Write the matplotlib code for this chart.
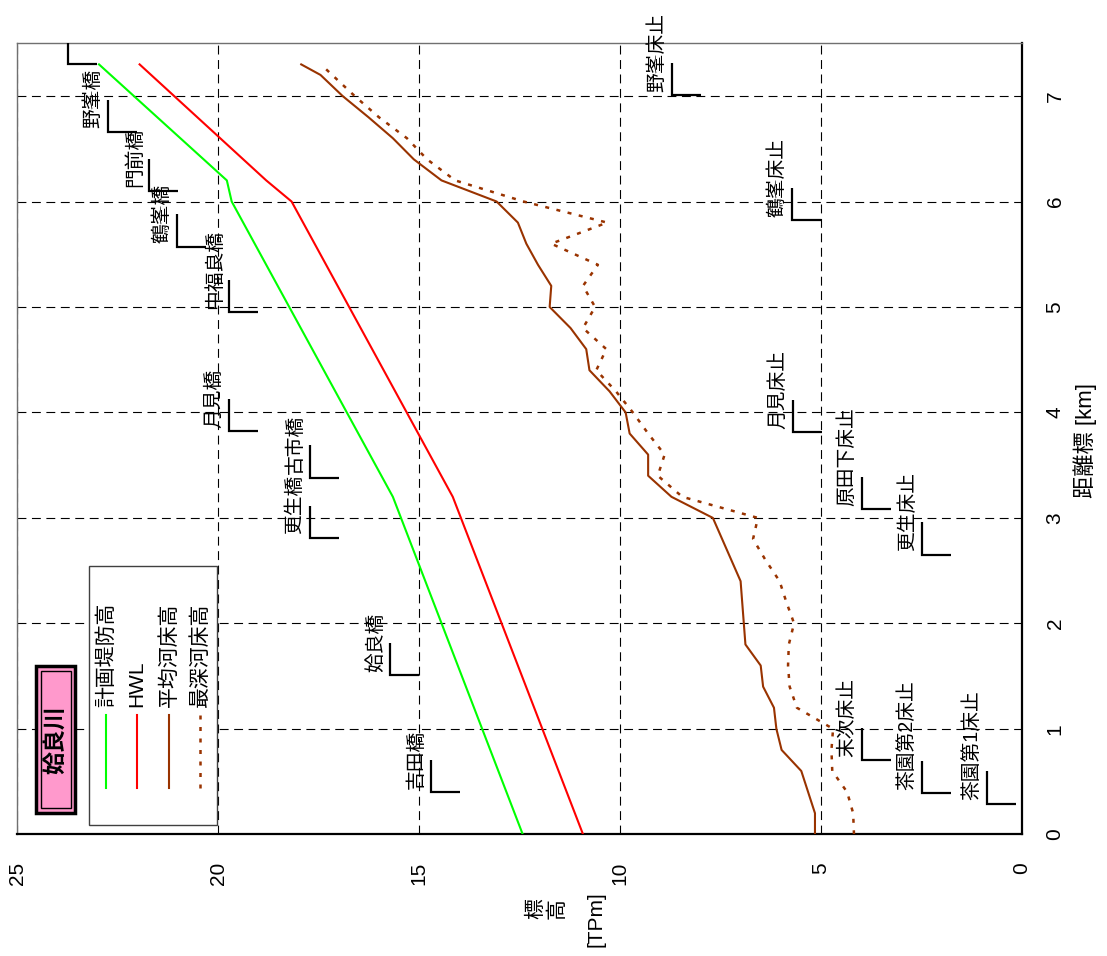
import numpy as np
import matplotlib.pyplot as plt
from matplotlib.patches import Rectangle
from matplotlib.lines import Line2D

plt.rcParams['font.family'] = ['Liberation Sans', 'Noto Sans CJK JP', 'DejaVu Sans']

# chart is drawn turned a quarter turn: distance runs up, elevation runs left
plan_dist = [0.0, 3.2, 6.0, 6.2, 7.3]
plan_elev = [12.42, 15.65, 19.66, 19.78, 22.96]

hwl_dist = [0.0, 3.2, 6.0, 6.2, 7.3]
hwl_elev = [10.92, 14.16, 18.17, 18.8, 21.95]

mean_dist = [0.0, 0.2, 0.6, 0.8, 1.0, 1.2, 1.4, 1.6, 1.8, 2.4, 3.0, 3.2, 3.4, 3.6, 3.8,
             4.0, 4.2, 4.4, 4.6, 4.8, 5.0, 5.2, 5.4, 5.6, 5.8, 6.0, 6.2, 6.4, 6.6,
             6.8, 7.0, 7.2, 7.3]
mean_elev = [5.15, 5.15, 5.49, 5.98, 6.11, 6.17, 6.44, 6.50, 6.88, 7.00, 7.69, 8.72, 9.30,
             9.30, 9.76, 9.86, 10.26, 10.76, 10.84, 11.23, 11.75, 11.71, 12.04, 12.33,
             12.54, 13.07, 14.44, 15.13, 15.65, 16.26, 16.90, 17.45, 17.93]

deep_dist = [0.0, 0.2, 0.4, 0.6, 0.8, 1.0, 1.2, 1.4, 1.6, 1.8, 2.0, 2.2, 2.4, 2.6, 2.8,
             3.0, 3.2, 3.4, 3.6, 3.8, 4.0, 4.2, 4.4, 4.6, 4.8, 5.0, 5.2, 5.4, 5.6,
             5.8, 6.0, 6.2, 6.4, 6.6, 6.8, 7.0, 7.3]
deep_elev = [4.18, 4.20, 4.35, 4.72, 4.74, 4.70, 5.60, 5.78, 5.82, 5.80, 5.67, 5.86, 6.03,
             6.38, 6.69, 6.57, 8.45, 9.06, 8.89, 9.30, 9.68, 10.10, 10.59, 10.34, 10.92,
             10.62, 10.92, 10.55, 11.71, 10.32, 12.40, 14.10, 14.80, 15.30, 16.00,
             16.60, 17.44]

bridge_names = ['', '野峯橋', '門前橋', '鶴峯橋', '中福良橋', '月見橋', '古市橋', '更生橋', '姶良橋', '吉田橋']
bridge_dist = [7.30, 6.66, 6.10, 5.57, 4.95, 3.82, 3.38, 2.81, 1.51, 0.40]
bridge_elev = [23.73, 22.73, 21.71, 21.02, 19.72, 19.72, 17.71, 17.71, 15.71, 14.70]

stop_names = ['野峯床止', '鶴峯床止', '月見床止', '原田下床止', '更生床止', '末次床止', '茶園第2床止', '茶園第1床止']
stop_dist = [7.01, 5.82, 3.81, 3.08, 2.65, 0.70, 0.39, 0.29]
stop_elev = [8.71, 5.71, 5.69, 3.99, 2.48, 3.98, 2.48, 0.88]

elev_ticks = [0, 5, 10, 15, 20, 25]
dist_ticks = [0, 1, 2, 3, 4, 5, 6, 7]

legend_labels = ['計画堤防高', 'HWL', '平均河床高', '最深河床高']

GREEN = '#00FF00'
RED = '#FF0000'
BROWN = '#993300'
DOTS = (0, (1.6, 3.0))

W, H = 1107, 956


def P(x, y):
    return (x / W, 1 - y / H)


fig = plt.figure(figsize=(W / 100, H / 100), dpi=100)
ax = fig.add_axes([17 / W, 1 - 834.3 / H, (1022 - 17) / W, (834.3 - 43.3) / H])

ax.plot(plan_elev, plan_dist, color=GREEN, lw=1.5, zorder=3)
ax.plot(hwl_elev, hwl_dist, color=RED, lw=1.5, zorder=3)
ax.plot(mean_elev, mean_dist, color=BROWN, lw=1.5, zorder=3)
ax.plot(deep_elev, deep_dist, color=BROWN, lw=1.8, linestyle=DOTS, zorder=3)

ax.set_xlim(25, 0)
ax.set_ylim(0, 7.5)
ax.set_xticks(elev_ticks)
ax.set_yticks(dist_ticks)
ax.yaxis.tick_right()
ax.tick_params(axis='x', labelrotation=90, length=0, pad=20, labelsize=15)
ax.tick_params(axis='y', labelrotation=90, length=0, pad=17, labelsize=15)
for t in ax.get_yticklabels():
    t.set_va('center')
ax.set_axisbelow(True)
ax.grid(True, color='k', lw=0.8, linestyle=(0, (8, 5)))

for s in ['top', 'left']:
    ax.spines[s].set_color('#707070')
    ax.spines[s].set_linewidth(1.0)
for s in ['bottom', 'right']:
    ax.spines[s].set_color('k')
    ax.spines[s].set_linewidth(1.6)

# bridge and bed-stop markers
for names, dists, elevs in [(bridge_names, bridge_dist, bridge_elev),
                            (stop_names, stop_dist, stop_elev)]:
    for name, d, e in zip(names, dists, elevs):
        ax.plot([e, e, e - 0.72], [d + 0.307, d, d], color='k', lw=1.6,
                solid_capstyle='butt', solid_joinstyle='miter', zorder=4)
        if name:
            ax.annotate(name, xy=(e, d), xytext=(-4.0, 2.5), textcoords='offset points',
                        rotation=90, ha='right', va='bottom', fontsize=14.2,
                        annotation_clip=False, zorder=5)

# river name box
fig.patches.append(Rectangle(P(36, 812.7), 39 / W, 146.7 / H, transform=fig.transFigure,
                             facecolor='#FF99CC', edgecolor='k', lw=2.5, zorder=6))
fig.patches.append(Rectangle(P(40.5, 808), 30 / W, 137 / H, transform=fig.transFigure,
                             facecolor='none', edgecolor='k', lw=1.0, zorder=7))
fig.text(*P(55.5, 740), '姶良川', rotation=90, ha='center', va='center',
         fontsize=16.5, fontweight='bold', zorder=8)

# legend drawn turned
fig.patches.append(Rectangle(P(89.3, 825), 127.4 / W, 259 / H, transform=fig.transFigure,
                             facecolor='white', edgecolor='#404040', lw=1.0, zorder=6))
leg_x = [106, 136.7, 169, 200]
leg_style = [(GREEN, '-', 1.5), (RED, '-', 1.5), (BROWN, '-', 1.5), (BROWN, DOTS, 1.8)]
for lab, x, (c, ls, lw) in zip(legend_labels, leg_x, leg_style):
    x0, y0 = P(x, 787.7)
    x1, y1 = P(x, 715)
    fig.lines.append(Line2D([x0, x1], [y0, y1], transform=fig.transFigure, color=c,
                            linestyle=ls, lw=lw, zorder=7))
    fig.text(*P(x, 707), lab, rotation=90, ha='center', va='bottom', fontsize=15, zorder=8)

# axis titles
fig.text(*P(1085, 440), '距離標 [km]', rotation=90, ha='center', va='center', fontsize=16)
fig.text(*P(536, 909), '標', rotation=90, ha='center', va='center', fontsize=15)
fig.text(*P(557, 909), '高', rotation=90, ha='center', va='center', fontsize=15)
fig.text(*P(596, 919), '[TPm]', rotation=90, ha='center', va='center', fontsize=15)

fig.savefig('out.png', dpi=100)
